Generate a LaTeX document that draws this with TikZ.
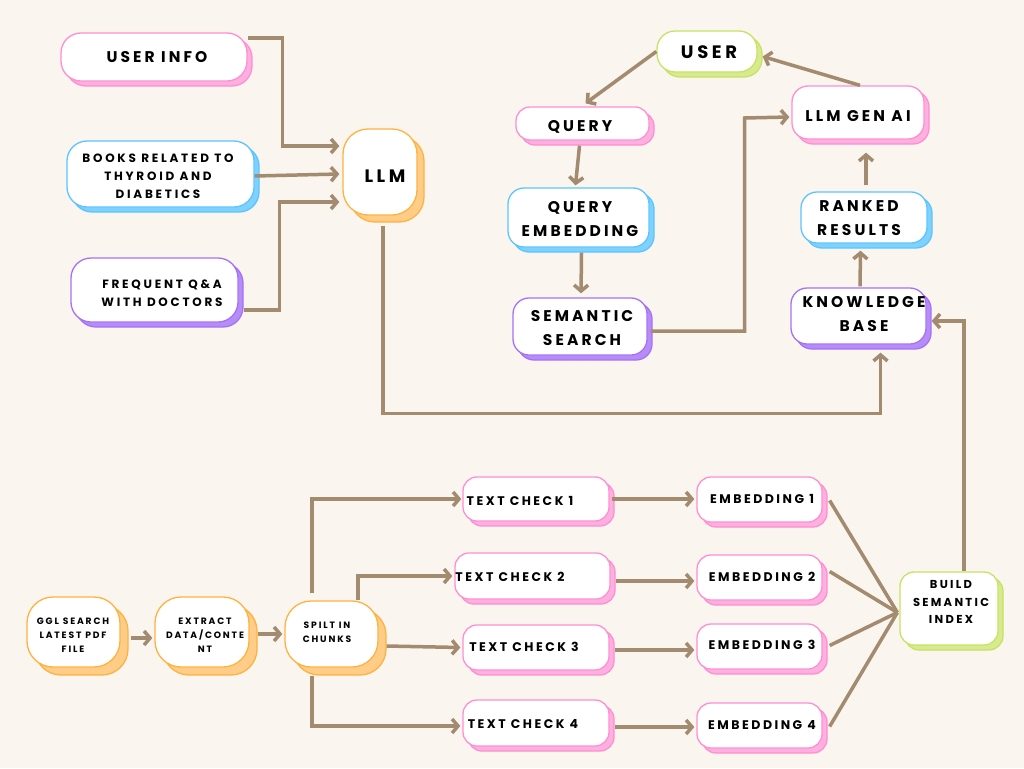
\documentclass[tikz,border=0pt]{standalone}
\usepackage{fontspec}
\setmainfont{Poppins}[LetterSpace=20]
\usetikzlibrary{arrows.meta}
\definecolor{bg}{HTML}{FAF5EF}
\definecolor{lnc}{HTML}{A38B6F}
\definecolor{pinkL}{HTML}{FF8ED2}\definecolor{pinkS}{HTML}{FFB0E0}
\definecolor{blueL}{HTML}{5CC5FF}\definecolor{blueS}{HTML}{7FD2FF}
\definecolor{purpL}{HTML}{A672F5}\definecolor{purpS}{HTML}{B68DF8}
\definecolor{oranL}{HTML}{FFB23E}\definecolor{oranS}{HTML}{FFCD88}
\definecolor{greenL}{HTML}{C8E263}\definecolor{greenS}{HTML}{D8EA90}
\newcommand\mybox[8][5]{%
 \path[draw=#7L,fill=#7S,line width=1.3pt,rounded corners=#8pt] ({#3+#1},{#4+#1}) rectangle ({#5+#1},{#6+#1});
 \node[draw=#7L,fill=white,line width=1.3pt,rounded corners=#8pt,inner sep=0pt,
   minimum width={(#5-#3)*1pt},minimum height={(#6-#4)*1pt}] (#2) at ({(#3+#5)/2},{(#4+#6)/2}) {};}
\tikzset{
 txt/.style={inner sep=0pt,align=center,text=black},
 tbig/.style={txt,font=\fontsize{18}{26}\selectfont\bfseries},
 tb/.style={txt,font=\fontsize{15.5}{24}\selectfont\bfseries},
 tm/.style={txt,font=\fontsize{12.5}{18}\selectfont\bfseries},
 ts/.style={txt,font=\fontsize{12}{18}\selectfont\bfseries\addfontfeatures{LetterSpace=23}},
 tbi/.style={txt,font=\fontsize{11.5}{17.5}\selectfont\bfseries},
 tx/.style={txt,font=\fontsize{9.2}{14}\selectfont\bfseries},
 ln/.style={draw=lnc,line width=3.5pt},
 arr/.style={ln,-{Straight Barb[length=6pt,width=14pt]}},
}
\begin{document}
\begin{tikzpicture}[x=1pt,y=-1pt]
\useasboundingbox[fill=bg] (0,0) rectangle (1024,768);
% boxes
\mybox{ui}{61}{33}{247}{81}{pink}{20}
\mybox{bk}{67}{141}{254}{207}{blue}{20}
\mybox{fq}{71}{258}{238}{322}{purp}{20}
\mybox[7]{llm}{343}{129}{417}{215}{oran}{25}
\mybox{us}{657}{31}{757}{72}{green}{18}
\mybox{q}{516}{107}{649}{140}{pink}{14}
\mybox{qe}{508}{188}{649}{247}{blue}{16}
\mybox{ss}{513}{298}{647}{355}{purp}{16}
\mybox{ga}{792}{86}{924}{139}{pink}{16}
\mybox{rr}{801}{192}{927}{243}{blue}{16}
\mybox{kb}{791}{288}{926}{344}{purp}{16}
\mybox[8]{gg}{27}{597}{120}{667}{oran}{26}
\mybox[8]{ex}{155}{597}{249}{667}{oran}{26}
\mybox[8]{sp}{285}{601}{378}{667}{oran}{26}
\mybox{t1}{463}{477}{609}{521}{pink}{14}
\mybox{t2}{455}{553}{610}{599}{pink}{14}
\mybox{t3}{463}{625}{609}{670}{pink}{14}
\mybox{t4}{463}{700}{609}{746}{pink}{14}
\mybox{e1}{697}{477}{822}{522}{pink}{14}
\mybox{e2}{697}{555}{822}{600}{pink}{14}
\mybox{e3}{697}{624}{822}{669}{pink}{14}
\mybox{e4}{697}{703}{822}{748}{pink}{14}
\mybox{bd}{900}{572}{998}{645}{green}{14}
% texts
\node[tb] (ui-t) at (157,57) {USER INFO};
\node[ts] (bk-t) at (158,176) {BOOKS RELATED TO\\THYROID AND\\DIABETICS};
\node[ts] (fq-t) at (162,293) {FREQUENT Q\&A\\WITH DOCTORS};
\node[tbig] (llm-t) at (385,176) {LLM};
\node[tbig] (us-t) at (709,52) {USER};
\node[tb] (q-t) at (580,127) {QUERY};
\node[tb] (qe-t) at (580,219) {QUERY\\EMBEDDING};
\node[tb] (ss-t) at (582,328) {SEMANTIC\\SEARCH};
\node[tb] (ga-t) at (858,116) {LLM GEN AI};
\node[tb] (rr-t) at (859,218) {RANKED\\RESULTS};
\node[tb] (kb-t) at (864,314) {KNOWLEDGE\\BASE};
\node[tx] (gg-t) at (73,635) {GGL SEARCH\\LATEST PDF\\FILE};
\node[tx] (ex-t) at (205,635) {EXTRACT\\DATA/CONTE\\NT};
\node[tx] (sp-t) at (327,632) {SPILT IN\\CHUNKS};
\node[tm] (t1-t) at (520,501) {TEXT CHECK 1};
\node[tm] (t2-t) at (510,577) {TEXT CHECK 2};
\node[tm] (t3-t) at (524,647) {TEXT CHECK 3};
\node[tm] (t4-t) at (523,724) {TEXT CHECK 4};
\node[tm] (e1-t) at (762,499) {EMBEDDING 1};
\node[tm] (e2-t) at (762,577) {EMBEDDING 2};
\node[tm] (e3-t) at (762,645) {EMBEDDING 3};
\node[tm] (e4-t) at (762,725) {EMBEDDING 4};
\node[tbi] (bd-t) at (951,602) {BUILD\\SEMANTIC\\INDEX};
% connectors top-left
\draw[arr] ([yshift=19pt]ui.east) -| ++(35,108) -- ([xshift=-3pt,yshift=26pt]llm.west);
\draw[arr] ([yshift=-2pt]bk.east) -- ([xshift=-3pt,yshift=-2pt]llm.west);
\draw[arr] ([xshift=5pt,yshift=-20pt]fq.east) -| ++(36,-108) -- ([xshift=-3pt,yshift=-30pt]llm.west);
\draw[arr] ([xshift=3pt,yshift=-10pt]llm.south) -- ++(0,188) -| ([xshift=22pt,yshift=-8pt]kb.south);
% top-right
\draw[arr] (us.west) -- ([xshift=3pt,yshift=3pt]q.north);
\draw[arr] ([xshift=2pt]ga.north) -- ([xshift=5pt,yshift=-5pt]us.east);
\draw[arr] ([xshift=-3pt,yshift=-5pt]q.south) -- ([xshift=-3pt,yshift=2pt]qe.north);
\draw[arr] ([xshift=3pt,yshift=-5pt]qe.south) -- ([xshift=1pt,yshift=4pt]ss.north);
\draw[arr] ([xshift=3pt,yshift=-4.5pt]ss.east) -| ++(94,-213) -- ([xshift=-2pt,yshift=-4.5pt]ga.west);
\draw[arr] ([xshift=2pt,yshift=6pt]rr.north) -- ([xshift=8pt,yshift=-13pt]ga.south);
\draw[arr] ([xshift=1.5pt,yshift=1pt]kb.north) -- ([xshift=-3.5pt,yshift=-7pt]rr.south);
\draw[arr] ([xshift=15pt]bd.north) |- ([xshift=5pt,yshift=-5pt]kb.east);
% bottom
\draw[arr] ([xshift=10pt,yshift=-6pt]gg.east) -- ([xshift=-2pt,yshift=-6pt]ex.west);
\draw[arr] ([xshift=8pt,yshift=-2pt]ex.east) -- ([xshift=-2pt]sp.west);
\draw[arr] ([xshift=-19.5pt,yshift=7pt]sp.north) |- ([xshift=-1pt]t1.west);
\draw[arr] ([xshift=26.5pt]sp.north) |- ([xshift=-2pt]t2.west);
\draw[arr] ([xshift=8pt,yshift=-12pt]sp.east) -- ([xshift=-2pt]t3.west);
\draw[arr] ([xshift=-19.5pt,yshift=-8pt]sp.south) |- ([xshift=-2pt,yshift=-3pt]t4.west);
\draw[arr] ([xshift=2pt]t1.east) -- ([xshift=-2pt]t1.east -| e1.west);
\draw[arr] ([xshift=5pt,yshift=-5pt]t2.east) -- ([xshift=-2pt,yshift=-5pt]t2.east -| e2.west);
\draw[arr] ([xshift=5pt,yshift=-2.5pt]t3.east) -- ([xshift=-2pt,yshift=-2.5pt]t3.east -| e3.west);
\draw[arr] ([xshift=5pt,yshift=-4pt]t4.east) -- ([xshift=-2pt,yshift=-4pt]t4.east -| e4.west);
\draw[ln] ([xshift=7pt,yshift=-1pt]e1.east) -- ([xshift=-2pt,yshift=-4pt]bd.west);
\draw[ln] ([xshift=7pt,yshift=6pt]e2.east) -- ([xshift=-2pt,yshift=-4pt]bd.west);
\draw[ln] ([xshift=7pt,yshift=1pt]e3.east) -- ([xshift=-2pt,yshift=-4pt]bd.west);
\draw[ln] ([xshift=7pt,yshift=-1pt]e4.east) -- ([xshift=-2pt,yshift=-4pt]bd.west);
\end{tikzpicture}
\end{document}
